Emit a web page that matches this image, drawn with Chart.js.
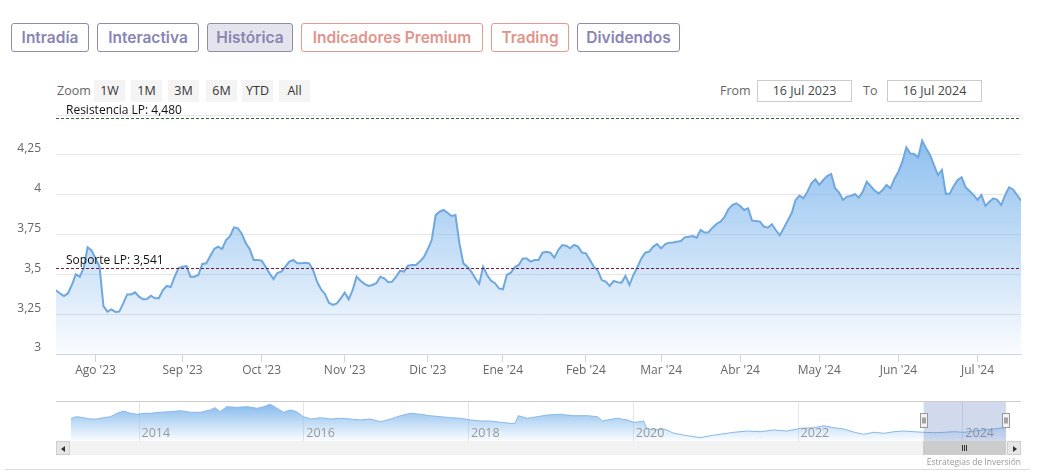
<!DOCTYPE html>
<html><head><meta charset="utf-8">
<script src="https://cdn.jsdelivr.net/npm/chart.js@4.4.1/dist/chart.umd.min.js"></script>
<style>
html,body{margin:0;padding:0;background:#fff;}
#wrap{position:relative;width:1037px;height:476px;overflow:hidden;font-family:'Open Sans',sans-serif;}
.tab{position:absolute;top:23px;height:29px;box-sizing:border-box;border:1px solid #8f8cab;border-radius:3px;
  font-family:'Inter',sans-serif;font-weight:600;font-size:15.5px;color:#8884b3;display:flex;align-items:center;justify-content:center;background:#fff;}
.tab.red{border-color:#e29a92;color:#e2948b;}
.tab.sel{background:#e4e4ec;}
.zlab{position:absolute;top:80px;height:22px;line-height:22px;font-size:12.5px;color:#666;}
.zb{position:absolute;top:80px;height:22px;line-height:22px;background:#f4f4f4;font-size:12.5px;color:#333;text-align:center;}
.dbox{position:absolute;top:80px;height:22px;line-height:20px;box-sizing:border-box;border:1px solid #ccc;font-size:12.5px;color:#444;text-align:center;}
canvas{position:absolute;left:0;}
.sb{position:absolute;top:441px;height:14px;box-sizing:border-box;}
</style></head>
<body><div id="wrap">
<div class="tab" style="left:11px;width:78px">Intradía</div>
<div class="tab" style="left:97px;width:102px">Interactiva</div>
<div class="tab sel" style="left:207px;width:86px">Histórica</div>
<div class="tab red" style="left:301px;width:182px">Indicadores Premium</div>
<div class="tab red" style="left:491px;width:78px">Trading</div>
<div class="tab" style="left:577px;width:103px">Dividendos</div>

<div class="zlab" style="left:57px">Zoom</div>
<div class="zb" style="left:94px;width:31px">1W</div>
<div class="zb" style="left:131px;width:31px">1M</div>
<div class="zb" style="left:168px;width:31px">3M</div>
<div class="zb" style="left:206px;width:31px">6M</div>
<div class="zb" style="left:242px;width:31px">YTD</div>
<div class="zb" style="left:279px;width:31px">All</div>
<div class="zlab" style="left:720px">From</div>
<div class="dbox" style="left:757px;width:95px">16 Jul 2023</div>
<div class="zlab" style="left:863px">To</div>
<div class="dbox" style="left:887px;width:95px">16 Jul 2024</div>

<canvas id="main" width="1037" height="400" style="top:0"></canvas>
<canvas id="nav" width="1037" height="50" style="top:396px"></canvas>

<div class="sb" style="left:56px;width:965px;background:#f2f2f2;"></div>
<div class="sb" style="left:56px;width:14px;background:#e6e6e6;border:1px solid #cfcfcf;">
  <div style="position:absolute;left:4px;top:4px;width:0;height:0;border-top:3px solid transparent;border-bottom:3px solid transparent;border-right:4px solid #333;"></div></div>
<div class="sb" style="left:1007px;width:14px;background:#e6e6e6;border:1px solid #cfcfcf;">
  <div style="position:absolute;left:5px;top:4px;width:0;height:0;border-top:3px solid transparent;border-bottom:3px solid transparent;border-left:4px solid #333;"></div></div>
<div class="sb" style="left:923px;width:83px;background:#cccccc;">
  <div style="position:absolute;left:39px;top:4px;width:1px;height:6px;background:#333"></div>
  <div style="position:absolute;left:41px;top:4px;width:1px;height:6px;background:#333"></div>
  <div style="position:absolute;left:43px;top:4px;width:1px;height:6px;background:#333"></div>
</div>
<div style="position:absolute;right:16px;top:456px;font-size:8.5px;color:#999;">Estrategias de Inversión</div>
<div style="position:absolute;left:5px;width:1025px;top:469px;height:1px;background:#dcdcdc;"></div>
</div>
<script>
// ---- main series (one value per trading session, 17 Jul 2023 -> 16 Jul 2024) ----
const values = [
 3.40,3.38,3.364,3.38,3.433,3.50,3.485,3.54,3.67,3.65,3.60,3.55,3.30,3.266,3.28,3.264,3.266,3.318,3.374,3.374,3.387,
 3.36,3.343,3.345,3.366,3.35,3.35,3.40,3.427,3.42,3.485,3.54,3.548,3.552,3.485,3.485,3.496,3.565,3.569,3.615,3.659,
 3.674,3.659,3.715,3.74,3.795,3.789,3.753,3.695,3.657,3.59,3.59,3.586,3.548,3.506,3.47,3.51,
 3.517,3.548,3.58,3.59,3.569,3.569,3.573,3.569,3.527,3.454,3.406,3.377,3.322,3.308,3.318,3.349,3.385,3.343,3.40,3.485,
 3.46,3.44,3.427,3.433,3.444,3.485,3.475,3.45,3.454,3.485,3.523,3.517,3.554,3.559,3.559,3.58,3.607,3.657,3.715,3.872,
 3.893,3.904,3.887,3.866,3.872,3.695,3.569,3.548,3.517,3.475,3.44,3.548,3.496,3.46,3.444,3.412,3.406,3.496,3.51,3.544,
 3.559,3.60,3.60,3.58,3.59,3.59,3.636,3.642,3.636,3.605,3.653,3.684,3.68,3.663,3.684,3.674,3.636,3.632,3.59,3.548,
 3.523,3.464,3.454,3.427,3.458,3.45,3.448,3.49,3.433,3.496,3.544,3.60,3.636,3.642,3.674,3.69,3.663,3.688,3.699,3.70,
 3.705,3.709,3.732,3.736,3.74,3.73,3.778,3.762,3.764,3.793,3.816,3.831,3.858,3.908,3.935,3.946,
 3.929,3.904,3.914,3.837,3.835,3.831,3.80,3.793,3.814,3.778,3.745,3.789,3.837,3.883,3.967,3.994,3.977,4.019,4.071,4.096,
 4.061,4.092,4.117,4.13,4.04,4.013,3.967,3.988,3.992,4.004,3.981,4.019,4.082,4.054,4.025,4.008,4.029,4.061,4.04,4.10,
 4.144,4.207,4.297,4.259,4.255,4.234,4.339,4.291,4.249,4.186,4.123,4.155,4.004,4.008,4.054,4.092,4.109,4.046,4.023,
 3.998,3.967,3.998,3.929,3.956,3.977,3.967,3.935,3.998,4.046,4.033,3.998,3.962
];
const monthLabels = ["Ago '23","Sep '23","Oct '23","Nov '23","Dic '23","Ene '24","Feb '24","Mar '24","Abr '24","May '24","Jun '24","Jul '24"];
const monthIdx    = [10,32,52,73,94,113,134,153,173,193,213,233];
const yTicks = [3,3.25,3.5,3.75,4,4.25,4.5];
const resLevel = 4.480;
const supLevel = 3.541;

// ---- navigator series (full history) ----
const navYears = [2013.18,2013.25,2013.33,2013.41,2013.49,2013.57,2013.66,2013.74,2013.82,2013.90,2013.98,2014.06,2014.14,2014.26,2014.38,2014.51,2014.63,2014.75,2014.87,2014.93,
 2014.99,2015.07,2015.19,2015.32,2015.44,2015.52,2015.60,2015.68,2015.76,2015.84,2015.92,2016.00,2016.09,2016.21,2016.33,2016.45,2016.57,2016.69,2016.81,2016.94,
 2017.06,2017.18,2017.30,2017.42,2017.54,2017.66,2017.79,2017.91,2018.03,2018.15,2018.27,2018.39,2018.51,2018.57,2018.61,2018.72,2018.84,2018.96,2019.12,2019.28,
 2019.45,2019.57,2019.63,2019.69,2019.81,2019.93,2020.01,2020.09,2020.13,2020.17,2020.25,2020.38,2020.50,2020.66,2020.82,2020.94,2021.06,2021.23,2021.39,2021.55,
 2021.71,2021.87,2022.04,2022.20,2022.32,2022.44,2022.56,2022.69,2022.80,2022.93,2023.05,2023.17,2023.29,2023.41,2023.53,2023.65,2023.78,2023.90,2024.02,2024.14,
 2024.26,2024.38,2024.50,2024.53];
const navValues = [5.92,6.17,6.01,5.81,5.81,6.01,6.17,6.69,7.05,6.69,6.54,6.69,6.69,6.85,6.94,7.10,6.85,6.85,7.21,7.56,
 6.94,7.72,7.62,7.72,7.47,7.72,8.09,7.47,6.85,7.21,6.94,6.17,5.81,6.01,5.81,5.92,5.81,5.66,5.81,5.39,
 5.81,6.32,6.69,6.54,6.32,6.17,6.01,5.92,5.66,5.50,5.50,5.30,5.14,5.14,6.32,5.92,6.17,6.43,6.54,6.32,
 6.32,6.17,5.50,5.66,5.92,5.66,5.30,5.39,5.50,4.37,4.11,4.26,3.59,3.22,2.91,3.22,3.44,3.75,3.95,3.84,
 4.11,3.95,4.37,4.46,4.77,4.46,4.26,3.75,3.44,3.75,3.59,3.84,3.95,3.84,3.75,3.68,3.75,3.84,3.75,3.95,
 4.11,4.26,4.46,4.46];
const navYearTicks = [2014,2016,2018,2020,2022,2024];
const selFrom = 2023.53;

const fmt = v => String(v).replace('.', ',');
Chart.defaults.font.family = "'Open Sans', sans-serif";

const levels = [
  {value: resLevel, label: 'Resistencia LP: ' + resLevel.toFixed(3).replace('.', ','), color: '#2d6a2d'},
  {value: supLevel, label: 'Soporte LP: ' + supLevel.toFixed(3).replace('.', ','), color: '#6e1a44'}
];
const levelPlugin = {
  id: 'levels',
  afterDatasetsDraw(chart) {
    const {ctx, chartArea: a, scales: {y}} = chart;
    levels.forEach(l => {
      const py = Math.round(y.getPixelForValue(l.value)) + 0.5;
      ctx.save();
      ctx.strokeStyle = l.color; ctx.lineWidth = 1; ctx.setLineDash([3, 2]);
      ctx.beginPath(); ctx.moveTo(a.left, py); ctx.lineTo(a.right, py); ctx.stroke();
      ctx.setLineDash([]);
      ctx.fillStyle = '#111'; ctx.font = "12px 'Open Sans'"; ctx.textBaseline = 'middle';
      ctx.fillText(l.label, a.left + 10, py - 7.5);
      ctx.restore();
    });
  }
};

function areaGradient(ctx, top, bottom) {
  const c = ctx.chart, a = c.chartArea;
  if (!a) return 'rgba(124,181,236,0.5)';
  const g = c.ctx.createLinearGradient(0, a.top, 0, a.bottom);
  g.addColorStop(0, 'rgba(124,181,236,' + top + ')');
  g.addColorStop(1, 'rgba(124,181,236,' + bottom + ')');
  return g;
}

new Chart(document.getElementById('main'), {
  type: 'line',
  data: { datasets: [{
    data: values.map((v, i) => ({x: i, y: v})),
    borderColor: '#70a8de', borderWidth: 2, pointRadius: 0, tension: 0,
    fill: 'start', backgroundColor: c => areaGradient(c, 0.95, 0.04)
  }]},
  options: {
    responsive: false, animation: false, devicePixelRatio: 1,
    layout: {padding: {top: 115, right: 16, left: 0, bottom: 0}},
    plugins: {legend: {display: false}, tooltip: {enabled: false}},
    scales: {
      x: {
        type: 'linear', min: 0, max: values.length - 1,
        afterBuildTicks: s => { s.ticks = monthIdx.map(v => ({value: v})); },
        afterFit: s => { s.height = 46; },
        grid: {drawOnChartArea: false, drawTicks: true, tickLength: 8, color: '#ccd6eb'},
        border: {color: '#ccd6eb'},
        ticks: {autoSkip: false, maxRotation: 0, padding: 1, color: '#666', font: {size: 12},
                callback: (v, i) => monthLabels[i]}
      },
      y: {
        min: 3, max: 4.5,
        afterBuildTicks: s => { s.ticks = yTicks.map(v => ({value: v})); },
        afterFit: s => { s.width = 56; },
        grid: {color: '#e6e6e6', drawTicks: false},
        border: {display: false},
        ticks: {padding: 15, labelOffset: -6, color: '#666', font: {size: 12},
                callback: v => v >= 4.5 ? '' : fmt(v)}
      }
    }
  },
  plugins: [levelPlugin]
});

const navPlugin = {
  id: 'navdeco',
  beforeDatasetsDraw(chart) {
    const {ctx, chartArea: a, scales: {x}} = chart;
    ctx.save();
    ctx.strokeStyle = '#e6e6e6'; ctx.lineWidth = 1;
    navYearTicks.forEach(yr => {
      const px = Math.round(x.getPixelForValue(yr)) + 0.5;
      ctx.beginPath(); ctx.moveTo(px, a.top); ctx.lineTo(px, a.bottom); ctx.stroke();
    });
    ctx.restore();
  },
  afterDatasetsDraw(chart) {
    const {ctx, chartArea: a, scales: {x}} = chart;
    ctx.save();
    ctx.fillStyle = '#999'; ctx.font = "12.5px 'Open Sans'"; ctx.textBaseline = 'middle';
    navYearTicks.forEach(yr => {
      ctx.fillText(String(yr), x.getPixelForValue(yr) + 3, a.bottom - 8);
    });
    ctx.strokeStyle = '#cccccc';
    ctx.beginPath(); ctx.moveTo(56, a.top + 0.5); ctx.lineTo(1021, a.top + 0.5); ctx.stroke();
    const x0 = x.getPixelForValue(selFrom), x1 = a.right;
    ctx.fillStyle = 'rgba(102,133,194,0.3)';
    ctx.fillRect(x0, a.top + 1, x1 - x0, a.bottom - a.top - 1);
    [x0, x1].forEach(hx => {
      const hx0 = Math.round(hx - 4) + 0.5, hy0 = a.top + 12.5;
      ctx.fillStyle = '#f2f2f2'; ctx.strokeStyle = '#999';
      ctx.fillRect(hx0, hy0, 7, 14); ctx.strokeRect(hx0, hy0, 7, 14);
      ctx.strokeStyle = '#555';
      ctx.beginPath();
      ctx.moveTo(hx0 + 2.5, hy0 + 4); ctx.lineTo(hx0 + 2.5, hy0 + 10);
      ctx.moveTo(hx0 + 4.5, hy0 + 4); ctx.lineTo(hx0 + 4.5, hy0 + 10);
      ctx.stroke();
    });
    ctx.restore();
  }
};

new Chart(document.getElementById('nav'), {
  type: 'line',
  data: { datasets: [{
    data: navYears.map((yr, i) => ({x: yr, y: navValues[i]})),
    borderColor: '#88b8e6', borderWidth: 1, pointRadius: 0, tension: 0,
    fill: 'start', backgroundColor: c => areaGradient(c, 1, 0.03)
  }]},
  options: {
    responsive: false, animation: false, devicePixelRatio: 1,
    layout: {padding: {top: 5, bottom: 5, left: 71, right: 31}},
    plugins: {legend: {display: false}, tooltip: {enabled: false}},
    scales: {
      x: {type: 'linear', display: false, min: navYears[0], max: navYears[navYears.length - 1]},
      y: {display: false, min: 2.4, max: 8.6}
    }
  },
  plugins: [navPlugin]
});
</script>
</body></html>
